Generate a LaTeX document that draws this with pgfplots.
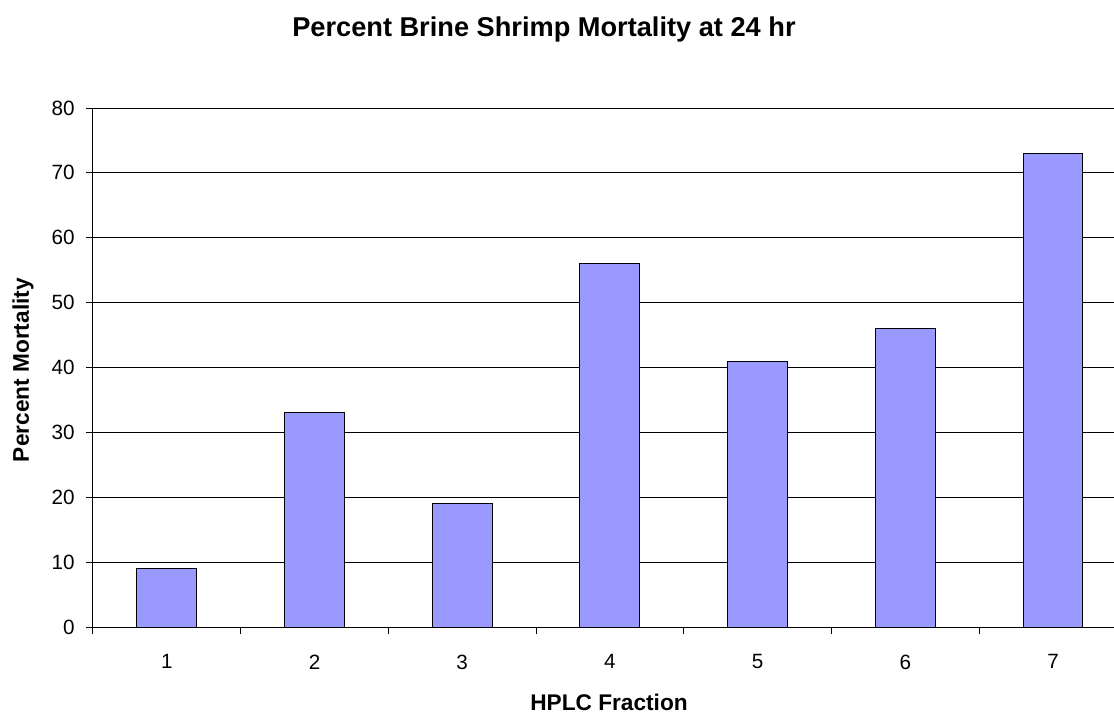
\documentclass[border=0pt]{standalone}
\usepackage{pgfplots}
\pgfplotsset{compat=1.18}
\usepackage{fontspec}
\setmainfont{Liberation Sans}
\definecolor{barblue}{HTML}{9999FF}
\begin{document}
\begin{tikzpicture}
\path[use as bounding box] (-69.75pt,-66pt) rectangle (765.75pt,470.25pt);
\begin{axis}[
  at={(0pt,0pt)}, anchor=south west,
  scale only axis, width=765.75pt, height=389.25pt,
  xmin=0.5, xmax=7.413, ymin=0, ymax=80,
  axis x line*=bottom, axis y line*=left,
  axis line style={black, line width=0.75pt},
  ytick={0,10,...,80}, xtick={1,...,7},
  minor xtick={0.5,1.5,...,6.5},
  tick align=outside,
  major tick length=5.25pt, minor tick length=5.25pt,
  tick style={black, line width=0.75pt},
  major x tick style={draw=none},
  ymajorgrids, grid style={black, line width=0.75pt},
  /pgf/number format/assume math mode=true,
  ticklabel style={font=\fontsize{15.5}{18}\selectfont},
  xticklabel style={yshift=-12pt},
  yticklabel style={xshift=-5pt},
  ybar, bar width=0.406,
  xlabel={HPLC Fraction},
  ylabel={Percent Mortality},
  title={Percent Brine Shrimp Mortality at 24 hr},
  xlabel style={font=\fontsize{17}{20}\selectfont\bfseries, at={(axis description cs:0.5054,-0.1445)}, anchor=center},
  ylabel style={font=\fontsize{17}{20}\selectfont\bfseries, at={(axis description cs:-0.0686,0.495)}, anchor=center},
  title style={font=\fontsize{20.4}{24}\selectfont\bfseries, at={(axis description cs:0.4417,1.1355)}, anchor=center, yshift=0pt},
]
\addplot[fill=barblue, draw=black, line width=0.75pt] coordinates {(1,9) (2,33) (3,19) (4,56) (5,41) (6,46) (7,73)};
\end{axis}
\end{tikzpicture}
\end{document}
